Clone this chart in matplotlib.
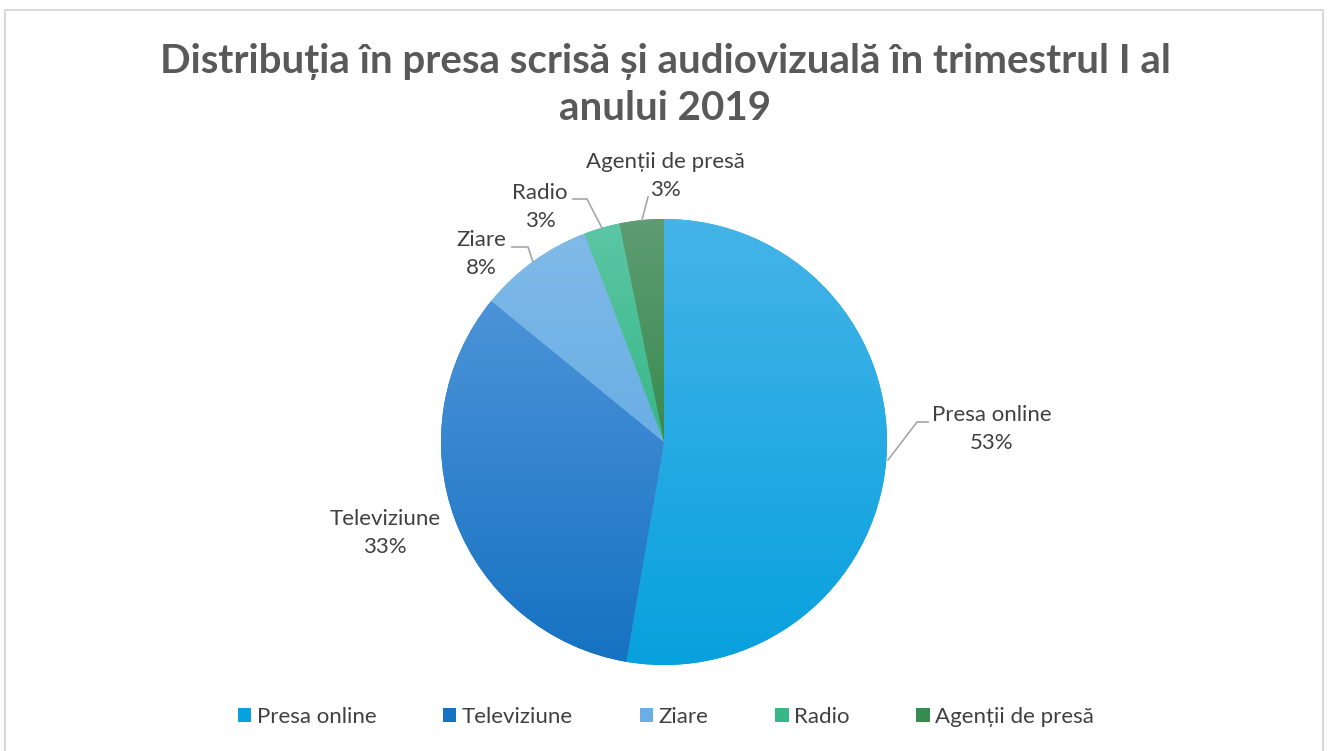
import matplotlib.pyplot as plt
import numpy as np
from matplotlib.colors import LinearSegmentedColormap
from matplotlib.patches import Rectangle

plt.rcParams['font.family'] = ['Lato', 'DejaVu Sans']

categories = ['Presa online', 'Televiziune', 'Ziare', 'Radio', 'Agenții de presă']
shares = [52.7, 33.2, 8.3, 2.6, 3.2]
pct_labels = ['53%', '33%', '8%', '3%', '3%']
top_colors = ['#45B4E8', '#4C93D8', '#80BAE9', '#5CC6A4', '#5E9C72']
bottom_colors = ['#07A1DE', '#1672C2', '#6AAEE4', '#38B789', '#388B50']

W, H = 1329, 751
fig = plt.figure(figsize=(W / 100, H / 100), dpi=100)
ax = fig.add_axes([0, 0, 1, 1])

def py(y):
    # pixel row (from top) -> data y
    return H - y

cx, cy, r = 664, py(442), 223
wedges, _ = ax.pie(shares, center=(cx, cy), radius=r, startangle=90, counterclock=False,
                   colors=bottom_colors, frame=True)
ax.set_xlim(0, W)
ax.set_ylim(0, H)
ax.set_aspect('equal')
ax.axis('off')

ax.add_patch(Rectangle((5, py(760)), 1318, 750, fill=False, ec='#D9D9D9', lw=1.5))

# vertical gradient in every wedge, lighter on top
for w, c1, c2 in zip(wedges, top_colors, bottom_colors):
    ext = w.get_path().get_extents()
    cmap = LinearSegmentedColormap.from_list('g', [c2, c1])
    grad = np.linspace(0, 1, 256).reshape(-1, 1)
    im = ax.imshow(grad, cmap=cmap, extent=(ext.x0, ext.x1, ext.y0, ext.y1), origin='lower',
                   aspect='auto', zorder=w.get_zorder() + 0.1)
    im.set_clip_path(w)
    w.set_edgecolor('none')

lab_style = dict(fontsize=16, color='#404040', ha='center', va='center', linespacing=1.45)
label_pos = [(992, 429), (385, 533), (481, 254), (540, 207), (665, 176)]
for name, pct, (lx, ly) in zip(categories, pct_labels, label_pos):
    ax.text(lx, py(ly), f'{name}\n{pct}', **lab_style)

leaders = [
    [(888, 460), (917, 422), (928, 422)],
    [(533, 262), (528, 247), (512, 247)],
    [(602, 228), (587, 199), (573, 199)],
    [(642, 220), (648, 197)],
]
for pts in leaders:
    xs = [p[0] for p in pts]
    ys = [py(p[1]) for p in pts]
    ax.plot(xs, ys, color='#A6A6A6', lw=1.2, zorder=5)

ax.text(665, py(85), 'Distribuția în presa scrisă și audiovizuală în trimestrul I al\nanului 2019',
        fontsize=29, fontweight='bold', color='#595959', ha='center', va='center', linespacing=1.33)

leg = ax.legend(wedges, categories, loc='center', bbox_to_anchor=(666 / W, 1 - 717 / H),
                ncol=5, frameon=False, fontsize=16, handlelength=0.6, handleheight=0.6,
                handletextpad=0.25, columnspacing=3.0, labelcolor='#404040')

fig.savefig('out.png', dpi=100, facecolor='white')
